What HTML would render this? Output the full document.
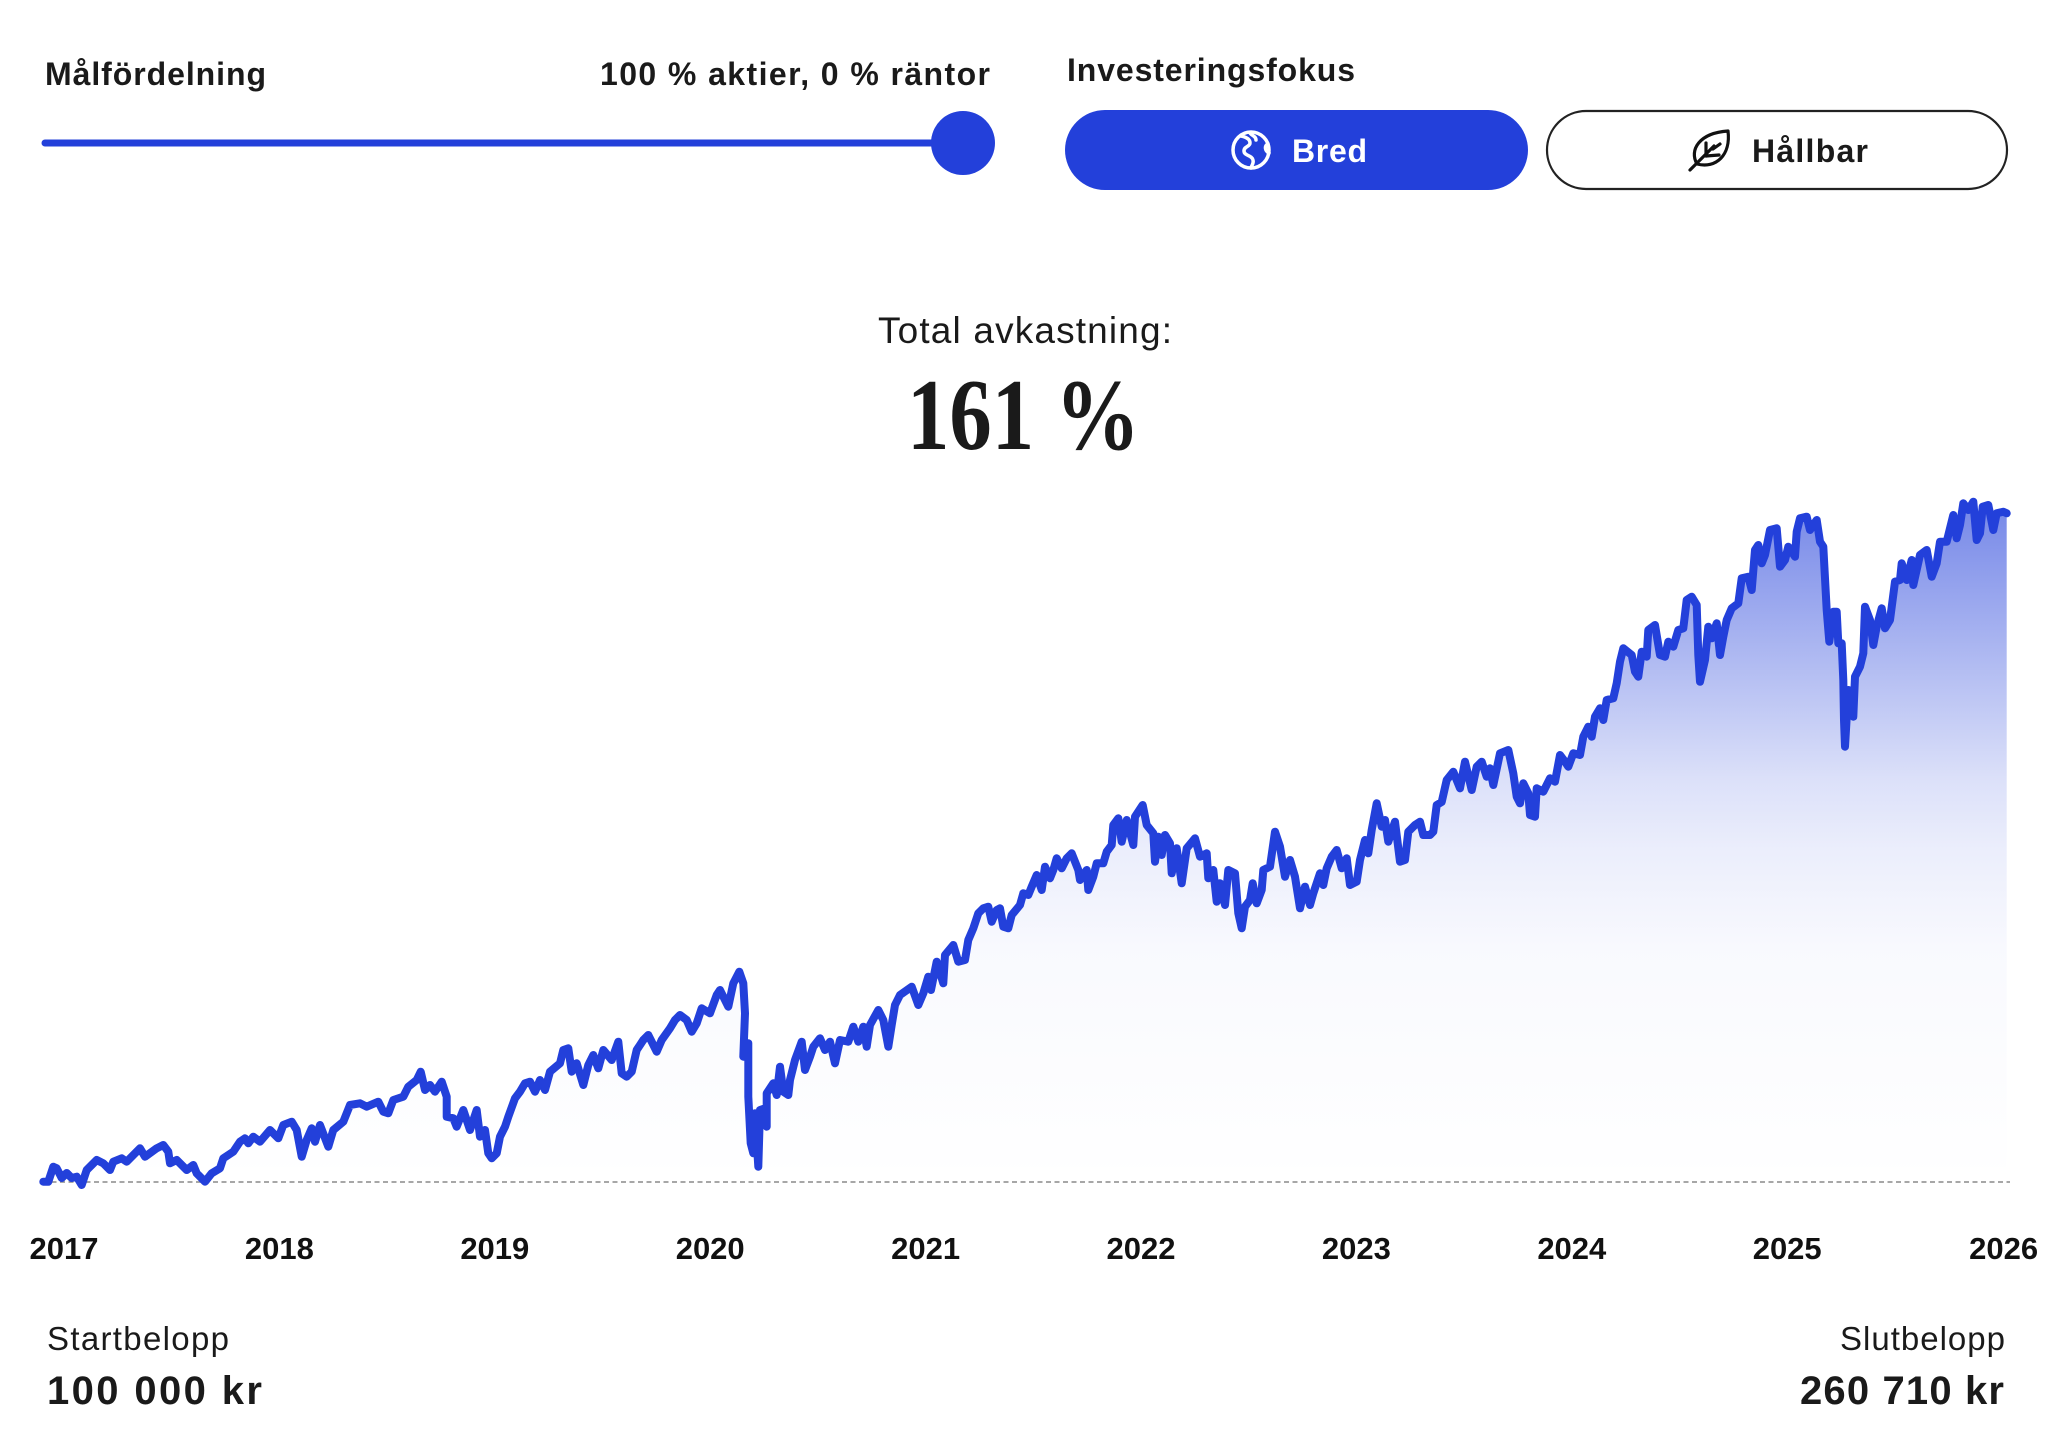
<!DOCTYPE html>
<html>
<head>
<meta charset="utf-8">
<style>
html,body{margin:0;padding:0;background:#fff;}
body{width:2052px;height:1446px;overflow:hidden;}
svg{display:block;font-family:"Liberation Sans",sans-serif;}
</style>
</head>
<body>
<svg width="2052" height="1446" viewBox="0 0 2052 1446" xmlns="http://www.w3.org/2000/svg">
<defs>
<linearGradient id="g" gradientUnits="userSpaceOnUse" x1="0" y1="500" x2="0" y2="1182">
<stop offset="0" stop-color="#2340da" stop-opacity="0.63"/>
<stop offset="0.41" stop-color="#2340da" stop-opacity="0.16"/>
<stop offset="0.513" stop-color="#2340da" stop-opacity="0.09"/>
<stop offset="0.66" stop-color="#2340da" stop-opacity="0.03"/>
<stop offset="1" stop-color="#2340da" stop-opacity="0"/>
</linearGradient>
</defs>

<!-- Header left -->
<text x="45" y="85" font-size="32" font-weight="bold" fill="#1a1a1a" textLength="221">Målfördelning</text>
<text x="600" y="85" font-size="32" font-weight="bold" fill="#1a1a1a" textLength="390">100 % aktier, 0 % räntor</text>
<line x1="45" y1="143" x2="963" y2="143" stroke="#2340da" stroke-width="7" stroke-linecap="round"/>
<circle cx="963" cy="143" r="32" fill="#2340da"/>

<!-- Header right -->
<text x="1067" y="81" font-size="32" font-weight="bold" fill="#1a1a1a" textLength="288">Investeringsfokus</text>
<rect x="1065" y="110" width="463" height="80" rx="40" fill="#2340da"/>
<g fill="none" stroke="#fff" stroke-width="3.5" stroke-linecap="round" stroke-linejoin="round">
<circle cx="1251" cy="150" r="18"/>
<path d="M1241,136 c5,1 9,3 9,7 c0,4 -6,3 -6,8 c0,5 8,4 9,9 c1,4 -2,6 -2,8"/>
<path d="M1250,133 c2,3 6,3 6,7"/>
<path d="M1268,144 c-4,2 -3,7 1,9"/>
</g>
<text x="1292" y="162" font-size="32" font-weight="bold" fill="#fff" textLength="75">Bred</text>

<rect x="1547" y="111" width="460" height="78" rx="39" fill="#fff" stroke="#222" stroke-width="2.2"/>
<g fill="none" stroke="#111" stroke-width="3.2" stroke-linecap="round" stroke-linejoin="round">
<path d="M1697,164 C1689,150 1699,133 1728,131 C1731,155 1716,169 1697,164 Z"/>
<path d="M1690,170 L1714,146"/>
<path d="M1706,156 L1706,143"/>
<path d="M1706,156 L1719,155"/>
<path d="M1713,149 L1720,144"/>
</g>
<text x="1752" y="162" font-size="32" font-weight="bold" fill="#1a1a1a" textLength="116">Hållbar</text>

<!-- Title -->
<text x="878" y="343" font-size="37" fill="#1a1a1a" textLength="294">Total avkastning:</text>
<text x="907" y="449" font-size="102" font-weight="bold" fill="#1a1a1a" font-family="Liberation Serif, serif" textLength="233" lengthAdjust="spacingAndGlyphs">161 %</text>

<!-- Chart -->
<path id="area" fill="url(#g)" d="M43.3,1181.7 L48.3,1181.7 L53.3,1166.7 L56.7,1168.3 L61.7,1178 L66.7,1173 L71.7,1178 L76.7,1176.7 L81.7,1185 L86.7,1170 L96.7,1160 L103.3,1163.3 L110,1170 L113.3,1161.7 L121.7,1158.3 L126.7,1161.7 L140,1148.3 L145,1156.7 L156.7,1148.3 L163.3,1145 L168.3,1151.7 L170,1163.3 L176.7,1160 L186.7,1170 L193.3,1165 L196.7,1173.3 L205,1181.7 L211.7,1173.3 L220,1168.3 L223.3,1158.3 L233.3,1151.7 L240,1141.7 L245,1138.3 L248.3,1143.3 L253.3,1136.7 L260,1141.7 L270,1130 L278.3,1138.3 L283.3,1125 L291.7,1121.7 L296.7,1130 L301.7,1156.7 L306.7,1140 L311.7,1128.3 L315,1141.7 L320,1125 L328.3,1146.7 L333.3,1130 L343.3,1121.7 L350,1105 L360,1103.3 L366.7,1106.7 L378.3,1101.7 L383.3,1111.7 L388.3,1113.3 L393.3,1100 L403.3,1096.7 L408.3,1086.7 L416.7,1080 L420.7,1071.7 L425,1090 L430,1085 L435,1091.7 L441.7,1081.7 L446.7,1096.7 L446.7,1116.7 L453.3,1118.3 L456.7,1126.7 L463.3,1110 L470,1130 L476.7,1110 L480,1136.7 L485,1130 L488.3,1153.3 L491.7,1158.3 L496.7,1153.3 L500,1136.7 L505,1126.7 L508.3,1116.7 L515,1098.3 L520,1091.7 L525,1083.3 L530,1081.7 L535,1091.7 L540,1080 L545,1090 L550,1071.7 L560,1063.3 L563.3,1050 L568.3,1048.3 L571.7,1071.7 L576.7,1063.3 L583.3,1085 L588.3,1065 L593.3,1055 L598.3,1068.3 L603.3,1050 L611.7,1060 L618.3,1041.7 L621.7,1073.3 L626.7,1076.7 L631.7,1071.7 L636.7,1050 L643.3,1040 L648.3,1035 L656.7,1051.7 L661.7,1040 L670,1028.3 L675,1020 L680,1015 L686.7,1020 L691.7,1031.7 L696.7,1023.3 L701.7,1008.3 L710,1013.3 L716.7,995 L720,990 L728.3,1006.7 L733.3,983.3 L739.3,971.7 L743.3,983.3 L745,1013.3 L743.3,1056.7 L748.3,1043.3 L748.3,1096.7 L750.7,1143.3 L753.3,1153.3 L755,1113.3 L758.3,1166.7 L760,1110 L765,1108.3 L766.7,1126.7 L766.7,1093.3 L773.3,1083.3 L776.7,1095 L780,1066.7 L783.3,1091.7 L788.3,1095 L790,1080 L795,1060 L801.7,1041.7 L805,1070 L810,1056.7 L813.3,1046.7 L820,1038.3 L825,1050 L830,1041.7 L835,1063.3 L840,1040 L848.3,1041.7 L853.3,1026.7 L858.3,1041.7 L863.3,1026.7 L866.7,1046.7 L870,1025 L878.3,1010 L883.3,1020 L888.3,1046.7 L891.7,1025 L895,1005 L900,995 L911.7,986.7 L918.3,1005 L923.3,993.3 L928.3,976.7 L931,990 L936.7,961.7 L943.3,983.3 L945,955 L953.3,945 L958.3,961.7 L965,960 L968.3,940 L973.3,928.3 L978.3,913.3 L983.3,908.3 L988.3,906.7 L991.7,921.7 L996.7,910 L1000,908.3 L1003.3,926.7 L1008.3,928.3 L1011.7,915 L1020,905 L1023.3,893.3 L1028.3,895 L1031.7,886.7 L1036.7,875 L1041.7,890 L1045,866.7 L1050,878.3 L1053.3,870 L1056.7,858.3 L1061.7,868.3 L1066.7,858.3 L1071.7,853.3 L1078.3,870 L1080,880 L1086.7,870 L1088.3,890 L1093.3,876.7 L1096.7,863.3 L1103.3,863.3 L1106.7,851.7 L1111.7,845 L1113.3,825 L1118.3,818.3 L1121.7,841.7 L1126.7,820 L1133.3,845 L1135,816.7 L1142.7,805 L1146.7,825 L1153.3,833.3 L1155,861.7 L1158.3,836.7 L1161.7,855 L1165,835 L1170,843.3 L1171.7,873.3 L1176.7,848.3 L1181.7,883.3 L1186.7,848.3 L1195,838.3 L1200,856.7 L1206.7,853.3 L1208.3,878.3 L1213.3,870 L1216.7,901.7 L1220,883.3 L1225,905 L1228.3,870 L1235,873.3 L1238.3,913.3 L1241.7,928.3 L1245,906.7 L1250,900 L1252.7,883.3 L1256.7,903.3 L1261.7,890 L1263.3,870 L1270,866.7 L1275,831.7 L1280,846.7 L1285,876.7 L1290,860 L1295,876.7 L1300,908.3 L1305,886.7 L1310,905 L1313.3,893.3 L1320,873.3 L1323.3,885 L1326.7,868.3 L1331.7,856.7 L1336.7,850 L1341.7,868.3 L1346.7,858.3 L1350,885 L1356.7,881.7 L1360,860 L1365,840 L1368.3,853.3 L1371.7,830 L1376.7,803.3 L1381.7,826.7 L1385,820 L1388.3,841.7 L1395,821.7 L1400,861.7 L1405,860 L1408.3,831.7 L1415,825 L1420,821.7 L1423.3,835 L1430,835 L1433.3,831.7 L1436.7,805 L1441.7,802 L1446.7,780 L1453.3,771.7 L1460,788.3 L1465,761.7 L1471.7,790 L1476.7,766.7 L1481.7,761.7 L1486.7,776.7 L1490,768.3 L1493.3,785 L1500,753.3 L1508.3,750 L1513.3,773.3 L1516.7,796.7 L1520,803.3 L1523.3,783.3 L1528.3,793.3 L1530,815 L1535,816.7 L1536.7,788.3 L1543.3,791.7 L1550,778.3 L1555,781.7 L1560,755 L1565,761.7 L1568.3,766.7 L1573.3,753.3 L1580,755 L1583.3,736.7 L1588.3,726.7 L1591.7,736.7 L1595,716.7 L1600,708.3 L1603.3,720 L1606.7,700 L1613.3,698.3 L1616.7,683.3 L1620,661.7 L1623.3,648.3 L1631.7,655 L1635,671.7 L1638.3,676.7 L1641.7,651.7 L1646.7,656.7 L1648.3,630 L1655,625 L1660,655 L1665,656.7 L1668.3,641.7 L1673.3,646.7 L1678.3,630 L1683.3,628.3 L1686.7,600 L1691.7,596.7 L1696.7,605 L1698.3,655 L1700,681.7 L1705,660 L1708.3,626.7 L1711.7,638.3 L1716.7,623.3 L1720,655 L1723.3,636.7 L1726.7,620 L1731.7,608.3 L1738.3,603.3 L1741.7,578.3 L1748.3,576.7 L1751.7,590 L1755,550 L1758.3,545 L1761.7,563.3 L1765,555 L1770,530 L1776.7,528.3 L1780,566.7 L1785,560 L1788.3,546.7 L1795,556.7 L1796.7,531.7 L1800,518.3 L1806.7,516.7 L1810,530 L1816.7,520 L1820,541.7 L1823.3,546.7 L1826.7,610 L1829.3,641.7 L1833.3,611.7 L1836.7,611.7 L1838.3,643.3 L1841.7,643.3 L1843.3,680 L1844,720 L1845,746.7 L1848.3,690 L1853.3,716.7 L1855,676.7 L1860,666.7 L1863.3,653.3 L1865,606.7 L1870,620 L1873.3,645 L1876.7,626.7 L1881.7,608.3 L1885,628.3 L1890,620 L1895,581.7 L1900,580 L1901.7,563.3 L1906.7,580 L1911.7,560 L1913.3,585 L1920,555 L1926.7,550 L1931.7,576.7 L1936.7,563.3 L1940,541.7 L1946.7,541.7 L1950,528.3 L1953.3,515 L1956.7,538.3 L1960,525 L1963.3,503.3 L1968.3,510 L1973.3,501.7 L1976.7,540 L1980,533.3 L1982.7,506.7 L1988.3,505 L1993.3,530 L1996.7,513.3 L2003.3,511.7 L2006.7,513.3 L2006.7,1182 L43.3,1182 Z"/>

<line x1="43" y1="1182" x2="2010" y2="1182" stroke="#8a8a8a" stroke-width="1.6" stroke-dasharray="5 3.5"/>

<path fill="none" stroke="#2340da" stroke-width="8" stroke-linejoin="round" stroke-linecap="round" d="M43.3,1181.7 L48.3,1181.7 L53.3,1166.7 L56.7,1168.3 L61.7,1178 L66.7,1173 L71.7,1178 L76.7,1176.7 L81.7,1185 L86.7,1170 L96.7,1160 L103.3,1163.3 L110,1170 L113.3,1161.7 L121.7,1158.3 L126.7,1161.7 L140,1148.3 L145,1156.7 L156.7,1148.3 L163.3,1145 L168.3,1151.7 L170,1163.3 L176.7,1160 L186.7,1170 L193.3,1165 L196.7,1173.3 L205,1181.7 L211.7,1173.3 L220,1168.3 L223.3,1158.3 L233.3,1151.7 L240,1141.7 L245,1138.3 L248.3,1143.3 L253.3,1136.7 L260,1141.7 L270,1130 L278.3,1138.3 L283.3,1125 L291.7,1121.7 L296.7,1130 L301.7,1156.7 L306.7,1140 L311.7,1128.3 L315,1141.7 L320,1125 L328.3,1146.7 L333.3,1130 L343.3,1121.7 L350,1105 L360,1103.3 L366.7,1106.7 L378.3,1101.7 L383.3,1111.7 L388.3,1113.3 L393.3,1100 L403.3,1096.7 L408.3,1086.7 L416.7,1080 L420.7,1071.7 L425,1090 L430,1085 L435,1091.7 L441.7,1081.7 L446.7,1096.7 L446.7,1116.7 L453.3,1118.3 L456.7,1126.7 L463.3,1110 L470,1130 L476.7,1110 L480,1136.7 L485,1130 L488.3,1153.3 L491.7,1158.3 L496.7,1153.3 L500,1136.7 L505,1126.7 L508.3,1116.7 L515,1098.3 L520,1091.7 L525,1083.3 L530,1081.7 L535,1091.7 L540,1080 L545,1090 L550,1071.7 L560,1063.3 L563.3,1050 L568.3,1048.3 L571.7,1071.7 L576.7,1063.3 L583.3,1085 L588.3,1065 L593.3,1055 L598.3,1068.3 L603.3,1050 L611.7,1060 L618.3,1041.7 L621.7,1073.3 L626.7,1076.7 L631.7,1071.7 L636.7,1050 L643.3,1040 L648.3,1035 L656.7,1051.7 L661.7,1040 L670,1028.3 L675,1020 L680,1015 L686.7,1020 L691.7,1031.7 L696.7,1023.3 L701.7,1008.3 L710,1013.3 L716.7,995 L720,990 L728.3,1006.7 L733.3,983.3 L739.3,971.7 L743.3,983.3 L745,1013.3 L743.3,1056.7 L748.3,1043.3 L748.3,1096.7 L750.7,1143.3 L753.3,1153.3 L755,1113.3 L758.3,1166.7 L760,1110 L765,1108.3 L766.7,1126.7 L766.7,1093.3 L773.3,1083.3 L776.7,1095 L780,1066.7 L783.3,1091.7 L788.3,1095 L790,1080 L795,1060 L801.7,1041.7 L805,1070 L810,1056.7 L813.3,1046.7 L820,1038.3 L825,1050 L830,1041.7 L835,1063.3 L840,1040 L848.3,1041.7 L853.3,1026.7 L858.3,1041.7 L863.3,1026.7 L866.7,1046.7 L870,1025 L878.3,1010 L883.3,1020 L888.3,1046.7 L891.7,1025 L895,1005 L900,995 L911.7,986.7 L918.3,1005 L923.3,993.3 L928.3,976.7 L931,990 L936.7,961.7 L943.3,983.3 L945,955 L953.3,945 L958.3,961.7 L965,960 L968.3,940 L973.3,928.3 L978.3,913.3 L983.3,908.3 L988.3,906.7 L991.7,921.7 L996.7,910 L1000,908.3 L1003.3,926.7 L1008.3,928.3 L1011.7,915 L1020,905 L1023.3,893.3 L1028.3,895 L1031.7,886.7 L1036.7,875 L1041.7,890 L1045,866.7 L1050,878.3 L1053.3,870 L1056.7,858.3 L1061.7,868.3 L1066.7,858.3 L1071.7,853.3 L1078.3,870 L1080,880 L1086.7,870 L1088.3,890 L1093.3,876.7 L1096.7,863.3 L1103.3,863.3 L1106.7,851.7 L1111.7,845 L1113.3,825 L1118.3,818.3 L1121.7,841.7 L1126.7,820 L1133.3,845 L1135,816.7 L1142.7,805 L1146.7,825 L1153.3,833.3 L1155,861.7 L1158.3,836.7 L1161.7,855 L1165,835 L1170,843.3 L1171.7,873.3 L1176.7,848.3 L1181.7,883.3 L1186.7,848.3 L1195,838.3 L1200,856.7 L1206.7,853.3 L1208.3,878.3 L1213.3,870 L1216.7,901.7 L1220,883.3 L1225,905 L1228.3,870 L1235,873.3 L1238.3,913.3 L1241.7,928.3 L1245,906.7 L1250,900 L1252.7,883.3 L1256.7,903.3 L1261.7,890 L1263.3,870 L1270,866.7 L1275,831.7 L1280,846.7 L1285,876.7 L1290,860 L1295,876.7 L1300,908.3 L1305,886.7 L1310,905 L1313.3,893.3 L1320,873.3 L1323.3,885 L1326.7,868.3 L1331.7,856.7 L1336.7,850 L1341.7,868.3 L1346.7,858.3 L1350,885 L1356.7,881.7 L1360,860 L1365,840 L1368.3,853.3 L1371.7,830 L1376.7,803.3 L1381.7,826.7 L1385,820 L1388.3,841.7 L1395,821.7 L1400,861.7 L1405,860 L1408.3,831.7 L1415,825 L1420,821.7 L1423.3,835 L1430,835 L1433.3,831.7 L1436.7,805 L1441.7,802 L1446.7,780 L1453.3,771.7 L1460,788.3 L1465,761.7 L1471.7,790 L1476.7,766.7 L1481.7,761.7 L1486.7,776.7 L1490,768.3 L1493.3,785 L1500,753.3 L1508.3,750 L1513.3,773.3 L1516.7,796.7 L1520,803.3 L1523.3,783.3 L1528.3,793.3 L1530,815 L1535,816.7 L1536.7,788.3 L1543.3,791.7 L1550,778.3 L1555,781.7 L1560,755 L1565,761.7 L1568.3,766.7 L1573.3,753.3 L1580,755 L1583.3,736.7 L1588.3,726.7 L1591.7,736.7 L1595,716.7 L1600,708.3 L1603.3,720 L1606.7,700 L1613.3,698.3 L1616.7,683.3 L1620,661.7 L1623.3,648.3 L1631.7,655 L1635,671.7 L1638.3,676.7 L1641.7,651.7 L1646.7,656.7 L1648.3,630 L1655,625 L1660,655 L1665,656.7 L1668.3,641.7 L1673.3,646.7 L1678.3,630 L1683.3,628.3 L1686.7,600 L1691.7,596.7 L1696.7,605 L1698.3,655 L1700,681.7 L1705,660 L1708.3,626.7 L1711.7,638.3 L1716.7,623.3 L1720,655 L1723.3,636.7 L1726.7,620 L1731.7,608.3 L1738.3,603.3 L1741.7,578.3 L1748.3,576.7 L1751.7,590 L1755,550 L1758.3,545 L1761.7,563.3 L1765,555 L1770,530 L1776.7,528.3 L1780,566.7 L1785,560 L1788.3,546.7 L1795,556.7 L1796.7,531.7 L1800,518.3 L1806.7,516.7 L1810,530 L1816.7,520 L1820,541.7 L1823.3,546.7 L1826.7,610 L1829.3,641.7 L1833.3,611.7 L1836.7,611.7 L1838.3,643.3 L1841.7,643.3 L1843.3,680 L1844,720 L1845,746.7 L1848.3,690 L1853.3,716.7 L1855,676.7 L1860,666.7 L1863.3,653.3 L1865,606.7 L1870,620 L1873.3,645 L1876.7,626.7 L1881.7,608.3 L1885,628.3 L1890,620 L1895,581.7 L1900,580 L1901.7,563.3 L1906.7,580 L1911.7,560 L1913.3,585 L1920,555 L1926.7,550 L1931.7,576.7 L1936.7,563.3 L1940,541.7 L1946.7,541.7 L1950,528.3 L1953.3,515 L1956.7,538.3 L1960,525 L1963.3,503.3 L1968.3,510 L1973.3,501.7 L1976.7,540 L1980,533.3 L1982.7,506.7 L1988.3,505 L1993.3,530 L1996.7,513.3 L2003.3,511.7 L2006.7,513.3"/>

<!-- Year labels -->
<g font-size="31" font-weight="bold" fill="#111" text-anchor="middle">
<text x="64" y="1259">2017</text>
<text x="279.4" y="1259">2018</text>
<text x="494.8" y="1259">2019</text>
<text x="710.2" y="1259">2020</text>
<text x="925.6" y="1259">2021</text>
<text x="1141" y="1259">2022</text>
<text x="1356.4" y="1259">2023</text>
<text x="1571.8" y="1259">2024</text>
<text x="1787.2" y="1259">2025</text>
<text x="2003.6" y="1259">2026</text>
</g>

<!-- Footer -->
<text x="47" y="1350" font-size="33" fill="#1a1a1a" textLength="182">Startbelopp</text>
<text x="47" y="1404" font-size="40" font-weight="bold" fill="#1a1a1a" textLength="215">100 000 kr</text>
<text x="1840" y="1350" font-size="33" fill="#1a1a1a" textLength="165">Slutbelopp</text>
<text x="1800" y="1404" font-size="40" font-weight="bold" fill="#1a1a1a" textLength="204">260 710 kr</text>
</svg>
</body>
</html>
